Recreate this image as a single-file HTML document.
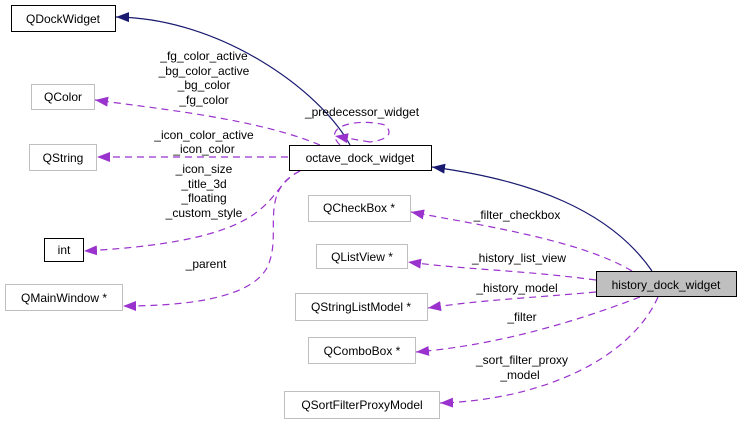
<!DOCTYPE html>
<html><head><meta charset="utf-8"><style>
html,body{margin:0;padding:0;background:#fff;width:741px;height:436px;overflow:hidden}
text{font-family:"Liberation Sans",sans-serif;font-size:12px;fill:#000}
</style></head><body>
<svg width="741" height="436" viewBox="0 0 741 436" xmlns="http://www.w3.org/2000/svg">
<defs>
<marker id="pa" markerWidth="14" markerHeight="12" refX="13" refY="6" orient="auto" markerUnits="userSpaceOnUse"><path d="M0,1 L13,6 L0,11 Z" fill="#9a32cd"/></marker>
<marker id="na" markerWidth="14" markerHeight="12" refX="13" refY="6" orient="auto" markerUnits="userSpaceOnUse"><path d="M0,1 L13,6 L0,11 Z" fill="#191970"/></marker>
</defs>
<g fill="none" stroke-width="1.2">
<!-- inheritance -->
<path d="M350,145 C320,90 220,18 116,17" stroke="#191970" marker-end="url(#na)"/>
<path d="M652,271 C610,210 530,180 432,167" stroke="#191970" marker-end="url(#na)"/>
<g stroke="#9a32cd" stroke-dasharray="7,5">
<path d="M320,145 C260,120 170,110 95,100" marker-end="url(#pa)"/>
<path d="M288,157 L97,157" marker-end="url(#pa)"/>
<path d="M300,171 C260,190 290,240 84,251" marker-end="url(#pa)"/>
<path d="M300,171 C260,190 280,230 270,260 C260,300 180,306 123,306" marker-end="url(#pa)"/>
<path d="M340,145 C320,125 360,118 385,125 C395,135 385,140 370,142" />
<path d="M370,142 L335,136" marker-end="url(#pa)"/>
<path d="M632,271 C580,240 480,225 411,212" marker-end="url(#pa)"/>
<path d="M596,280 C520,270 470,270 408,262" marker-end="url(#pa)"/>
<path d="M596,292 C530,298 480,300 428,308" marker-end="url(#pa)"/>
<path d="M640,297 C580,320 500,345 416,352" marker-end="url(#pa)"/>
<path d="M658,297 C630,360 540,400 440,403" marker-end="url(#pa)"/>
</g>
</g>
<!-- nodes -->
<g stroke-width="1">
<rect x="11.5" y="5.5" width="104" height="26" fill="#fff" stroke="#000"/>
<rect x="31.5" y="84.5" width="63" height="25" fill="#fff" stroke="#bfbfbf"/>
<rect x="29.5" y="144.5" width="67" height="26" fill="#fff" stroke="#bfbfbf"/>
<rect x="289.5" y="145.5" width="142" height="25" fill="#fff" stroke="#000"/>
<rect x="44.5" y="238.5" width="39" height="23" fill="#fff" stroke="#000"/>
<rect x="5.5" y="284.5" width="117" height="26" fill="#fff" stroke="#bfbfbf"/>
<rect x="308.5" y="195.5" width="102" height="26" fill="#fff" stroke="#bfbfbf"/>
<rect x="316.5" y="244.5" width="91" height="24" fill="#fff" stroke="#bfbfbf"/>
<rect x="295.5" y="293.5" width="132" height="27" fill="#fff" stroke="#bfbfbf"/>
<rect x="308.5" y="337.5" width="107" height="26" fill="#fff" stroke="#bfbfbf"/>
<rect x="284.5" y="391.5" width="155" height="27" fill="#fff" stroke="#bfbfbf"/>
<rect x="596.5" y="271.5" width="140" height="25" fill="#bfbfbf" stroke="#000"/>
</g>
<g text-anchor="middle">
<text x="63" y="23">QDockWidget</text>
<text x="63" y="101">QColor</text>
<text x="63" y="162">QString</text>
<text x="360" y="162">octave_dock_widget</text>
<text x="64" y="254">int</text>
<text x="64" y="302">QMainWindow *</text>
<text x="359" y="212">QCheckBox *</text>
<text x="362" y="261">QListView *</text>
<text x="361" y="311">QStringListModel *</text>
<text x="362" y="355">QComboBox *</text>
<text x="362" y="409">QSortFilterProxyModel</text>
<text x="666" y="289">history_dock_widget</text>
<!-- edge labels -->
<text x="204" y="60">_fg_color_active</text>
<text x="204" y="75">_bg_color_active</text>
<text x="204" y="89">_bg_color</text>
<text x="204" y="104">_fg_color</text>
<text x="362" y="116">_predecessor_widget</text>
<text x="204" y="139">_icon_color_active</text>
<text x="204" y="153">_icon_color</text>
<text x="204" y="173">_icon_size</text>
<text x="204" y="188">_title_3d</text>
<text x="204" y="202">_floating</text>
<text x="204" y="217">_custom_style</text>
<text x="206" y="268">_parent</text>
<text x="517" y="219">_filter_checkbox</text>
<text x="519" y="262">_history_list_view</text>
<text x="517" y="292">_history_model</text>
<text x="522" y="321">_filter</text>
<text x="522" y="364">_sort_filter_proxy</text>
<text x="520" y="379">_model</text>
</g>
</svg>
</body></html>
